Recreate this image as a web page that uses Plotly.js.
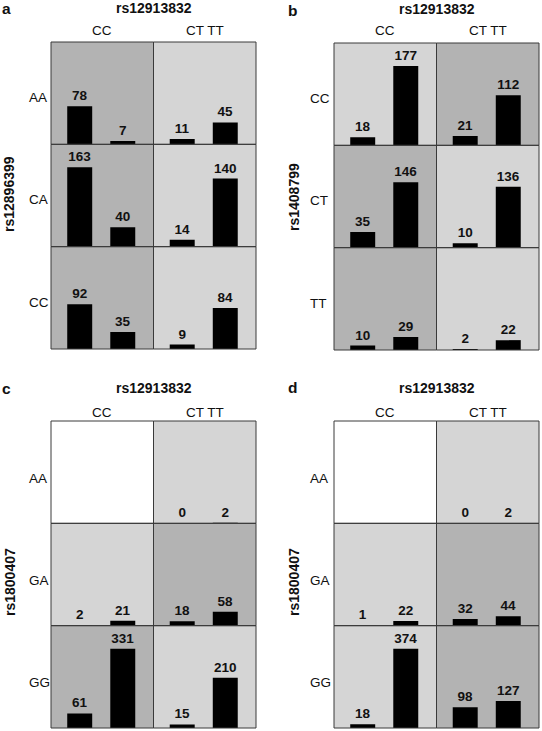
<!DOCTYPE html>
<html><head><meta charset="utf-8">
<script src="https://cdn.plot.ly/plotly-3.0.1.min.js"></script>
<style>html,body{margin:0;padding:0;background:#fff}</style>
</head><body><div id="chart" style="width:542px;height:731px"></div>
<script>
// ---- data ----
const colGenotypes = ['CC', 'CT TT'];          // rs12913832 genotype columns
const barGroups = ['group 1', 'group 2'];      // two bars per cell
const titleSnp = 'rs12913832';
const panelLetters = ['a', 'b', 'c', 'd'];
const rowSnps = ['rs12896399', 'rs1408799', 'rs1800407', 'rs1800407'];
const rowsA = ['AA', 'CA', 'CC'];
const rowsB = ['CC', 'CT', 'TT'];
const rowsC = ['AA', 'GA', 'GG'];
const rowsD = ['AA', 'GA', 'GG'];
const valuesA = [[[78, 7], [11, 45]], [[163, 40], [14, 140]], [[92, 35], [9, 84]]];
const valuesB = [[[18, 177], [21, 112]], [[35, 146], [10, 136]], [[10, 29], [2, 22]]];
const valuesC = [[null, [0, 2]], [[2, 21], [18, 58]], [[61, 331], [15, 210]]];
const valuesD = [[null, [0, 2]], [[1, 22], [32, 44]], [[18, 374], [98, 127]]];
// background shade level per cell (0 none, 1 light, 2 dark)
const shadeA = [[2, 1], [2, 1], [2, 1]];
const shadeB = [[1, 2], [2, 1], [2, 1]];
const shadeC = [[0, 1], [1, 2], [2, 1]];
const shadeD = [[0, 1], [1, 2], [1, 2]];

// ---- layout geometry (pixels) ----
const W = 542, H = 731;
const FONT = 'Liberation Sans, Arial, Helvetica, sans-serif';
const TXT = '#111111';
const shadeColors = ['#ffffff', '#d5d5d5', '#b3b3b3'];
const geo = [
  {l: 51, r: 256, t: 42, b: 349, rowX: 26.5, rowDy: 4.5, yTitleX: 9, yTitleY: 194, titleY: 8, colY: 31, letterX: 6, letterY: 8},
  {l: 334, r: 539, t: 43, b: 350, rowX: 307.5, rowDy: 4.5, yTitleX: 294, yTitleY: 197, titleY: 9.5, colY: 31, letterX: 292, letterY: 10.5},
  {l: 51, r: 256, t: 421, b: 728, rowX: 26.5, rowDy: 6, yTitleX: 10, yTitleY: 582, titleY: 388, colY: 412, letterX: 6, letterY: 388},
  {l: 334, r: 539, t: 421, b: 728, rowX: 307.5, rowDy: 6, yTitleX: 294, yTitleY: 582, titleY: 388, colY: 412, letterX: 292, letterY: 387.5}
];
const panels = [
  {rows: rowsA, values: valuesA, shade: shadeA},
  {rows: rowsB, values: valuesB, shade: shadeB},
  {rows: rowsC, values: valuesC, shade: shadeC},
  {rows: rowsD, values: valuesD, shade: shadeD}
];

const px = x => x / W;
const py = y => 1 - y / H;

const traces = [];
const layout = {
  width: W, height: H,
  margin: {l: 0, r: 0, t: 0, b: 0, pad: 0},
  paper_bgcolor: '#ffffff',
  plot_bgcolor: 'rgba(0,0,0,0)',
  showlegend: false,
  font: {family: FONT, color: TXT, size: 13},
  shapes: [],
  annotations: []
};

let k = 0;
panels.forEach((p, pi) => {
  const g = geo[pi];
  const cw = (g.r - g.l) / 2, rh = (g.b - g.t) / 3;
  let vmax = 0;
  p.values.forEach(row => row.forEach(cell => { if (cell) cell.forEach(v => { vmax = Math.max(vmax, v); }); }));
  const ymax = vmax * 1.29;

  p.rows.forEach((rowName, ri) => {
    colGenotypes.forEach((colName, ci) => {
      k += 1;
      const xs = k === 1 ? '' : String(k);
      const x0 = g.l + ci * cw, x1 = x0 + cw;
      const y0 = g.t + ri * rh, y1 = y0 + rh;
      layout['xaxis' + xs] = {
        domain: [px(x0), px(x1)], type: 'category', range: [-0.667, 1.714],
        showticklabels: false, showgrid: false, zeroline: false, showline: false,
        ticks: '', fixedrange: true, anchor: 'y' + xs
      };
      layout['yaxis' + xs] = {
        domain: [py(y1), py(y0)], range: [0, ymax],
        showticklabels: false, showgrid: false, zeroline: false, showline: false,
        ticks: '', fixedrange: true, anchor: 'x' + xs
      };
      // cell background
      layout.shapes.push({
        type: 'rect', xref: 'paper', yref: 'paper', layer: 'below',
        x0: px(x0), x1: px(x1), y0: py(y1), y1: py(y0),
        fillcolor: shadeColors[p.shade[ri][ci]], line: {width: 0}
      });
      // cell border
      layout.shapes.push({
        type: 'rect', xref: 'paper', yref: 'paper', layer: 'above',
        x0: px(x0), x1: px(x1), y0: py(y1), y1: py(y0),
        fillcolor: 'rgba(0,0,0,0)', line: {width: 1, color: '#3a3a3a'}
      });
      const vals = p.values[ri][ci];
      if (vals) {
        traces.push({
          type: 'bar', x: barGroups, y: vals,
          xaxis: 'x' + xs, yaxis: 'y' + xs,
          width: 0.58,
          marker: {color: '#000000', line: {width: 0}},
          text: vals.map(String), textposition: 'outside',
          textfont: {family: FONT, size: 13.5, weight: 'bold', color: TXT},
          cliponaxis: false, hoverinfo: 'skip'
        });
      }
      // column labels
      if (ri === 0) {
        layout.annotations.push({
          text: colName, xref: 'paper', yref: 'paper',
          x: px((x0 + x1) / 2), y: py(g.colY), xanchor: 'center', yanchor: 'middle',
          showarrow: false, font: {family: FONT, size: 13.5, color: TXT}
        });
      }
    });
    // row labels
    const yc = g.t + ri * rh + rh / 2 + g.rowDy;
    layout.annotations.push({
      text: rowName, xref: 'paper', yref: 'paper',
      x: px(g.rowX), y: py(yc), xanchor: 'left', yanchor: 'middle',
      showarrow: false, font: {family: FONT, size: 13.5, color: TXT}
    });
  });

  // panel title
  layout.annotations.push({
    text: '<b>' + titleSnp + '</b>', xref: 'paper', yref: 'paper',
    x: px((g.l + g.r) / 2), y: py(g.titleY), xanchor: 'center', yanchor: 'middle',
    showarrow: false, font: {family: FONT, size: 14, color: TXT}
  });
  // y title
  layout.annotations.push({
    text: '<b>' + rowSnps[pi] + '</b>', xref: 'paper', yref: 'paper',
    x: px(g.yTitleX), y: py(g.yTitleY), xanchor: 'center', yanchor: 'middle',
    textangle: -90, showarrow: false, font: {family: FONT, size: 14, color: TXT}
  });
  // panel letter
  layout.annotations.push({
    text: '<b>' + panelLetters[pi] + '</b>', xref: 'paper', yref: 'paper',
    x: px(g.letterX), y: py(g.letterY), xanchor: 'center', yanchor: 'middle',
    showarrow: false, font: {family: FONT, size: 15.5, color: TXT}
  });
});

Plotly.newPlot('chart', traces, layout, {staticPlot: true, displayModeBar: false});
</script>
</body></html>
